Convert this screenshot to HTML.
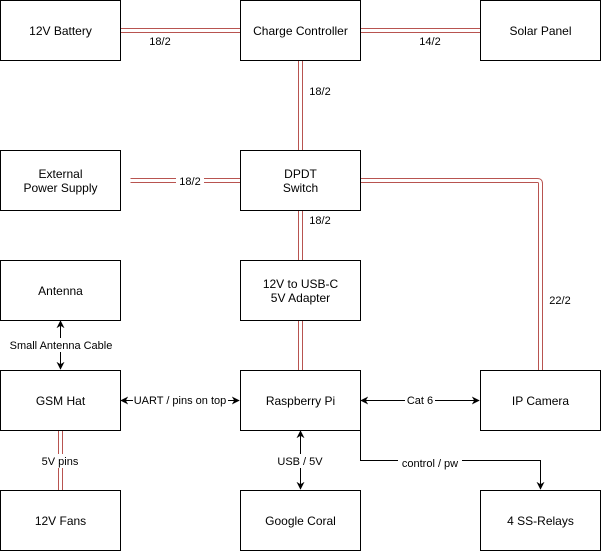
<!DOCTYPE html>
<html><head><meta charset="utf-8"><style>
html,body{margin:0;padding:0;background:#fff;}
svg{display:block;font-family:"Liberation Sans",Arial,sans-serif;}
</style></head><body>
<svg width="601" height="551" viewBox="0 0 601 551" xmlns="http://www.w3.org/2000/svg">
<defs>
<marker id="a" viewBox="0 0 10 10" refX="9" refY="5" markerWidth="8" markerHeight="8" orient="auto-start-reverse" markerUnits="userSpaceOnUse"><path d="M0,0 L10,5 L0,10 L3,5 z" fill="#000"/></marker>
</defs>
<g fill="none">
<!-- red double lines -->
<g stroke="#b85450" stroke-width="5">
<path d="M120.5,30.5H240.5"/><path d="M360.5,30.5H480.5"/>
<path d="M300.5,60.5V150.5"/><path d="M130.5,180.5H240.5"/>
<path d="M360.5,180.5H537.5Q540.5,180.5 540.5,183.5V370.5"/>
<path d="M300.5,210.5V260.5"/><path d="M300.5,320.5V370.5"/>
<path d="M60.5,430.5V490.5"/>
</g>
<g stroke="#fff" stroke-width="3">
<path d="M120.5,30.5H240.5"/><path d="M360.5,30.5H480.5"/>
<path d="M300.5,60.5V150.5"/><path d="M130.5,180.5H240.5"/>
<path d="M360.5,180.5H537.5Q540.5,180.5 540.5,183.5V370.5"/>
<path d="M300.5,210.5V260.5"/><path d="M300.5,320.5V370.5"/>
<path d="M60.5,430.5V490.5"/>
</g>
<!-- black arrows -->
<g stroke="#000" stroke-width="1">
<path d="M60.5,321V369" marker-start="url(#a)" marker-end="url(#a)"/>
<path d="M121,400.5H239" marker-start="url(#a)" marker-end="url(#a)"/>
<path d="M361,400.5H479" marker-start="url(#a)" marker-end="url(#a)"/>
<path d="M300.5,431V489" marker-start="url(#a)" marker-end="url(#a)"/>
<path d="M360.5,430V460.5H540.5V489" marker-end="url(#a)"/>
</g>
<!-- boxes -->
<g stroke="#000" fill="#fff" stroke-width="1">
<rect x="0.5" y="0.5" width="120" height="60"/><rect x="240.5" y="0.5" width="120" height="60"/><rect x="480.5" y="0.5" width="120" height="60"/>
<rect x="0.5" y="150.5" width="120" height="60"/><rect x="240.5" y="150.5" width="120" height="60"/>
<rect x="0.5" y="260.5" width="120" height="60"/><rect x="240.5" y="260.5" width="120" height="60"/>
<rect x="0.5" y="370.5" width="120" height="60"/><rect x="240.5" y="370.5" width="120" height="60"/><rect x="480.5" y="370.5" width="120" height="60"/>
<rect x="0.5" y="490.5" width="120" height="60"/><rect x="240.5" y="490.5" width="120" height="60"/><rect x="480.5" y="490.5" width="120" height="60"/>
</g>
</g>
<!-- label backgrounds -->
<g fill="#fff">
<rect x="176" y="173" width="28" height="15"/>
<rect x="40" y="454" width="42" height="14"/>
<rect x="8" y="338" width="106" height="14"/>
<rect x="133" y="393" width="95" height="14"/>
<rect x="405" y="393" width="30" height="14"/>
<rect x="276" y="454" width="48" height="14"/>
<rect x="398" y="456" width="64" height="13"/>
</g>
<g font-size="12" fill="#000" text-anchor="middle">
<text x="60.5" y="35">12V Battery</text>
<text x="300.5" y="35">Charge Controller</text>
<text x="540.5" y="35">Solar Panel</text>
<text x="60.5" y="178">External</text><text x="60.5" y="192">Power Supply</text>
<text x="300.5" y="178">DPDT</text><text x="300.5" y="192">Switch</text>
<text x="60.5" y="295">Antenna</text>
<text x="300.5" y="288">12V to USB-C</text><text x="300.5" y="302">5V Adapter</text>
<text x="60.5" y="405">GSM Hat</text>
<text x="300.5" y="405">Raspberry Pi</text>
<text x="540.5" y="405">IP Camera</text>
<text x="60.5" y="525">12V Fans</text>
<text x="300.5" y="525">Google Coral</text>
<text x="540.5" y="525">4 SS-Relays</text>
</g>
<g font-size="11" fill="#000" text-anchor="middle">
<text x="160" y="45">18/2</text>
<text x="430" y="45">14/2</text>
<text x="320" y="95">18/2</text>
<text x="190" y="185">18/2</text>
<text x="320" y="224">18/2</text>
<text x="560" y="304">22/2</text>
<text x="61" y="349">Small Antenna Cable</text>
<text x="180" y="404">UART / pins on top</text>
<text x="420" y="404">Cat 6</text>
<text x="60" y="465">5V pins</text>
<text x="300" y="465">USB / 5V</text>
<text x="430" y="467">control / pw</text>
</g>
</svg>
</body></html>
